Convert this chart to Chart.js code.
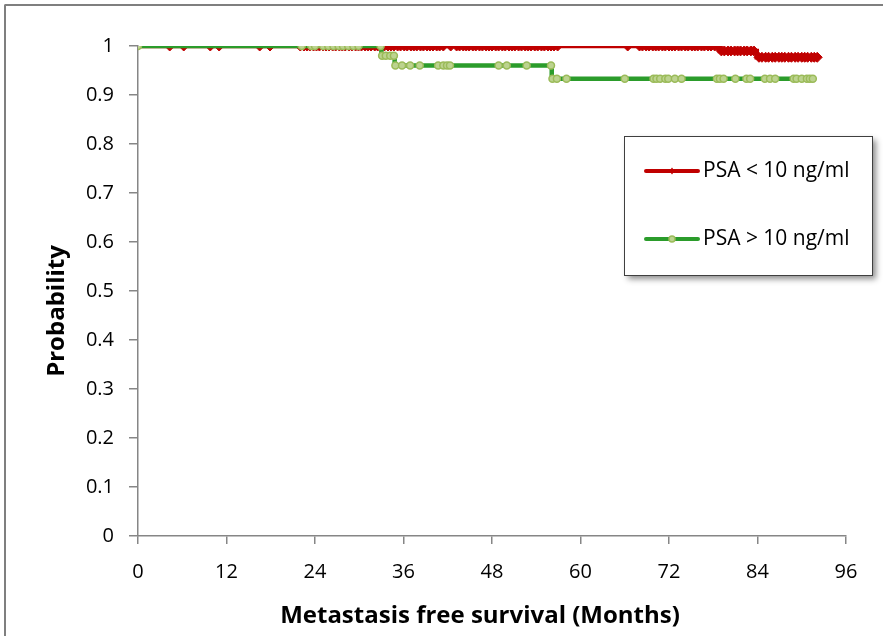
<!DOCTYPE html>
<html>
<head>
<meta charset="utf-8">
<title>Metastasis free survival</title>
<script src="https://cdn.jsdelivr.net/npm/chart.js@4.4.1/dist/chart.umd.min.js"></script>
<style>
  html, body { margin: 0; padding: 0; background: #fff; }
  #wrap { position: relative; width: 883px; height: 636px; overflow: hidden; }
  #frame {
    position: absolute; left: 4px; top: 4px; width: 920px; height: 700px;
    border-top: 2px solid #7f7f7f; border-left: 2px solid #7f7f7f;
    border-top-left-radius: 2px;
  }
  #km { position: absolute; left: 0; top: 0; }
</style>
</head>
<body>
<div id="wrap">
  <div id="frame"></div>
  <canvas id="km" width="883" height="636"></canvas>
</div>
<script>
const FONT = '"Open Sans", "Liberation Sans", sans-serif';

const xTitle = 'Metastasis free survival (Months)';
const yTitle = 'Probability';
const xTicks = [0, 12, 24, 36, 48, 60, 72, 84, 96];

// PSA < 10 ng/ml : event times (months) and survival after each step
const lowLabel = 'PSA < 10 ng/ml';
const lowTimes = [0, 78.9, 83.9];
const lowSurv = [1, 0.990, 0.977];
const lowEnd = 92.1;
const lowCensored = [
  4.3, 6.2, 9.8, 11.0, 16.5, 17.9,
  22.0, 22.5, 22.9, 23.3, 23.8, 24.2, 24.6, 25.1, 25.5, 25.9, 26.4, 26.8,
  27.3, 27.7, 28.1, 28.6, 29.0, 29.5, 29.9, 30.3, 30.8, 31.2, 31.6, 32.1,
  32.5, 33.0, 33.4, 33.9, 34.3, 34.7, 35.2, 35.6, 36.1, 36.5, 37.0, 37.4,
  37.8, 38.3, 38.7, 39.2, 39.6, 40.0, 40.5, 40.9, 41.4,
  42.4,
  43.2, 43.6, 44.1, 44.5, 44.9, 45.4, 45.8, 46.3, 46.7, 47.2, 47.6, 48.0,
  48.5, 48.9, 49.4, 49.8, 50.3, 50.7, 51.1, 51.6, 52.0, 52.5, 52.9, 53.3,
  53.8, 54.2, 54.7, 55.1, 55.6, 56.0, 56.4, 56.9,
  66.4,
  68.0, 68.4, 68.9, 69.3, 69.8, 70.2, 70.6, 71.1, 71.5, 72.0, 72.4, 72.8,
  73.3, 73.7, 74.2, 74.6, 75.1, 75.5, 75.9, 76.4, 76.8, 77.3, 77.7, 78.2, 78.6,
  79.1, 79.5, 80.0, 80.4, 80.9, 81.3, 81.7, 82.2, 82.6, 83.1, 83.5,
  84.2, 84.6, 85.1, 85.5, 86.0, 86.4, 86.9, 87.3, 87.7, 88.2, 88.6, 89.1,
  89.5, 90.0, 90.4, 90.8, 91.3, 91.7, 92.1
];

// PSA > 10 ng/ml
const highLabel = 'PSA > 10 ng/ml';
const highTimes = [0, 33.0, 34.8, 56.1];
const highSurv = [1, 0.980, 0.960, 0.933];
const highEnd = 91.5;
const highCensored = [
  0, 22.2, 23.5, 24.0, 25.1, 25.8, 26.5, 27.2, 27.8, 28.5, 29.2, 29.9, 32.9,
  33.1, 33.6, 34.2, 34.7,
  34.9, 35.8, 36.9, 38.2, 40.7, 41.4, 41.9, 42.3, 48.9, 50.0, 52.7, 56.0,
  56.2, 56.8, 58.1, 66.0, 69.9, 70.3, 70.8, 71.5, 71.9, 72.8, 73.7, 78.5,
  78.9, 79.4, 81.0, 82.5, 83.0, 85.0, 85.7, 86.4, 88.9, 89.3, 90.0, 90.7,
  91.1, 91.5
];

const RED = '#c00000';
const GREEN = '#2b9c2b';
const GREEN_MARK = '#9bbb59';
const GREEN_FILL = '#bcd38f';

// step curve: one point per event plus the last follow-up
function kmPoints(times, surv, end) {
  const pts = times.map((t, i) => ({ x: t, y: surv[i] }));
  pts.push({ x: end, y: surv[surv.length - 1] });
  return pts;
}

// censor ticks sit on the curve level in force at that time
function censorPoints(times, surv, censored) {
  return censored.map(t => {
    let k = 0;
    for (let i = 0; i < times.length; i++) if (times[i] <= t) k = i;
    return { x: t, y: surv[k] };
  });
}

const kmDecor = {
  id: 'kmDecor',
  afterDraw(chart) {
    const ctx = chart.ctx;
    ctx.save();

    // axis titles
    ctx.fillStyle = '#000';
    ctx.font = 'bold 24px ' + FONT;
    ctx.textAlign = 'center';
    ctx.textBaseline = 'middle';
    ctx.fillText(xTitle, 480, 616);
    ctx.save();
    ctx.translate(57, 311);
    ctx.rotate(-Math.PI / 2);
    ctx.fillText(yTitle, 0, 0);
    ctx.restore();

    // legend box with drop shadow
    const bx = 624, by = 136, bw = 248, bh = 139;
    ctx.save();
    ctx.shadowColor = 'rgba(0,0,0,0.45)';
    ctx.shadowBlur = 6;
    ctx.shadowOffsetX = 4;
    ctx.shadowOffsetY = 4;
    ctx.fillStyle = '#fff';
    ctx.fillRect(bx, by, bw, bh);
    ctx.restore();
    ctx.strokeStyle = '#3f3f3f';
    ctx.lineWidth = 1;
    ctx.strokeRect(bx + 0.5, by + 0.5, bw, bh);

    const rows = [
      { label: lowLabel, color: RED, y: 171, mark: 'diamond' },
      { label: highLabel, color: GREEN, y: 239, mark: 'circle' }
    ];
    rows.forEach(r => {
      ctx.strokeStyle = r.color;
      ctx.lineWidth = 4;
      ctx.lineCap = 'round';
      ctx.beginPath();
      ctx.moveTo(646, r.y);
      ctx.lineTo(698, r.y);
      ctx.stroke();
      ctx.lineCap = 'butt';
      if (r.mark === 'diamond') {
        ctx.fillStyle = RED;
        ctx.beginPath();
        ctx.moveTo(672, r.y - 3.5);
        ctx.lineTo(674.5, r.y);
        ctx.lineTo(672, r.y + 3.5);
        ctx.lineTo(669.5, r.y);
        ctx.closePath();
        ctx.fill();
      } else {
        ctx.fillStyle = GREEN_FILL;
        ctx.strokeStyle = GREEN_MARK;
        ctx.lineWidth = 1.5;
        ctx.beginPath();
        ctx.arc(672, r.y, 3, 0, Math.PI * 2);
        ctx.fill();
        ctx.stroke();
      }
      ctx.fillStyle = '#000';
      ctx.font = '21px ' + FONT;
      ctx.textAlign = 'left';
      ctx.textBaseline = 'middle';
      ctx.fillText(r.label, 703, r.y);
    });

    ctx.restore();
  }
};

const axisColor = '#868686';

new Chart(document.getElementById('km'), {
  type: 'line',
  data: {
    datasets: [
      {
        label: highLabel + ' censored',
        data: censorPoints(highTimes, highSurv, highCensored),
        showLine: false,
        pointStyle: 'circle',
        pointRadius: 3.5,
        pointBackgroundColor: GREEN_FILL,
        pointBorderColor: GREEN_MARK,
        pointBorderWidth: 1.5,
        order: 0
      },
      {
        label: highLabel,
        data: kmPoints(highTimes, highSurv, highEnd),
        stepped: true,
        borderColor: GREEN,
        borderWidth: 4.5,
        borderJoinStyle: 'miter',
        pointRadius: 0,
        fill: false,
        order: 1
      },
      {
        label: lowLabel + ' censored',
        data: censorPoints(lowTimes, lowSurv, lowCensored),
        showLine: false,
        pointStyle: 'rectRot',
        pointRadius: 5,
        pointBackgroundColor: RED,
        pointBorderColor: RED,
        pointBorderWidth: 1,
        order: 2
      },
      {
        label: lowLabel,
        data: kmPoints(lowTimes, lowSurv, lowEnd),
        stepped: true,
        borderColor: RED,
        borderWidth: 4.5,
        borderJoinStyle: 'miter',
        pointRadius: 0,
        fill: false,
        order: 3
      }
    ]
  },
  options: {
    responsive: false,
    animation: false,
    layout: { padding: { top: 46, right: 37, left: 0, bottom: 0 } },
    plugins: {
      legend: { display: false },
      tooltip: { enabled: false }
    },
    scales: {
      x: {
        type: 'linear',
        min: xTicks[0],
        max: xTicks[xTicks.length - 1],
        afterFit: s => { s.height = 100; },
        afterBuildTicks: s => { s.ticks = xTicks.map(v => ({ value: v })); },
        ticks: { font: { family: FONT, size: 20 }, color: '#000', padding: 16, maxRotation: 0 },
        grid: { drawOnChartArea: false, tickLength: 8, color: axisColor, lineWidth: 1.5 },
        border: { color: axisColor, width: 1.5 }
      },
      y: {
        min: 0,
        max: 1,
        afterFit: s => { s.width = 138; },
        ticks: {
          stepSize: 0.1,
          font: { family: FONT, size: 20 },
          color: '#000',
          padding: 15,
          callback: v => String(+v.toFixed(1))
        },
        grid: { drawOnChartArea: false, tickLength: 9, color: axisColor, lineWidth: 1.5 },
        border: { color: axisColor, width: 1.5 }
      }
    }
  },
  plugins: [kmDecor]
});
</script>
</body>
</html>
